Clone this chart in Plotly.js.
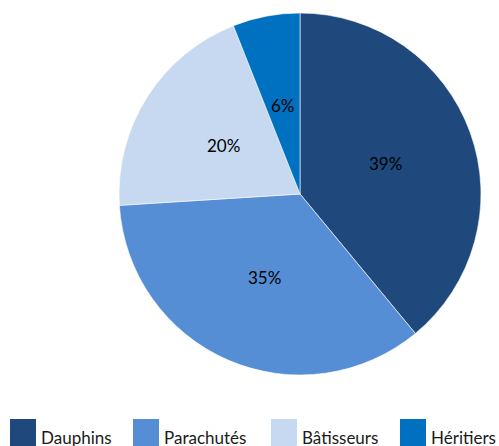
<!DOCTYPE html>
<html><head><meta charset="utf-8">
<script src="https://cdn.plot.ly/plotly-3.0.1.min.js"></script>
<style>html,body{margin:0;padding:0;background:#fff}</style>
</head><body><div id="chart" style="width:499px;height:446px"></div>
<script>
const labels = ["Dauphins", "Parachutés", "Bâtisseurs", "Héritiers"];
const values = [39, 35, 20, 6];
const colors = ["#1F497D", "#558ED5", "#C6D9F1", "#0070C0"];

const W = 499, H = 446;
const cx = 300, cy = 194, R = 181;
const legendX = [10, 133, 271, 400];
const shapes = [], annotations = [];
labels.forEach((l, i) => {
  shapes.push({type: 'rect', xref: 'paper', yref: 'paper',
    x0: legendX[i] / W, x1: (legendX[i] + 26) / W,
    y0: 1 - 447 / H, y1: 1 - 419 / H,
    fillcolor: colors[i], line: {width: 0}});
  annotations.push({xref: 'paper', yref: 'paper', x: (legendX[i] + 29) / W, y: 1 - 437 / H,
    xanchor: 'left', yanchor: 'middle', showarrow: false, text: l,
    font: {family: 'Lato, sans-serif', size: 17, color: '#1a1a1a'}});
});
// percentage labels at half radius on each slice's mid-angle (clockwise from top)
const total = values.reduce((a, b) => a + b, 0);
let cum = 0;
values.forEach(v => {
  const mid = (cum + v / 2) / total * 2 * Math.PI;
  cum += v;
  const px = cx + 0.5 * R * Math.sin(mid), py = cy - 0.5 * R * Math.cos(mid);
  annotations.push({xref: 'paper', yref: 'paper', x: px / W, y: 1 - py / H,
    xanchor: 'center', yanchor: 'middle', showarrow: false,
    text: Math.round(v / total * 100) + '%',
    font: {family: 'Lato, sans-serif', size: 17, color: '#000000'}});
});

Plotly.newPlot('chart', [{
  type: 'pie', labels: labels, values: values, sort: false, direction: 'clockwise', rotation: 0,
  marker: {colors: colors, line: {color: '#ffffff', width: 0.6}},
  textinfo: 'none',
  domain: {x: [(cx - R) / W, (cx + R) / W], y: [1 - (cy + R) / H, 1 - (cy - R) / H]},
  hoverinfo: 'none'
}], {
  width: W, height: H, margin: {l: 0, r: 0, t: 0, b: 0},
  showlegend: false, paper_bgcolor: '#ffffff',
  shapes: shapes, annotations: annotations
}, {displayModeBar: false, staticPlot: true});
</script></body></html>
